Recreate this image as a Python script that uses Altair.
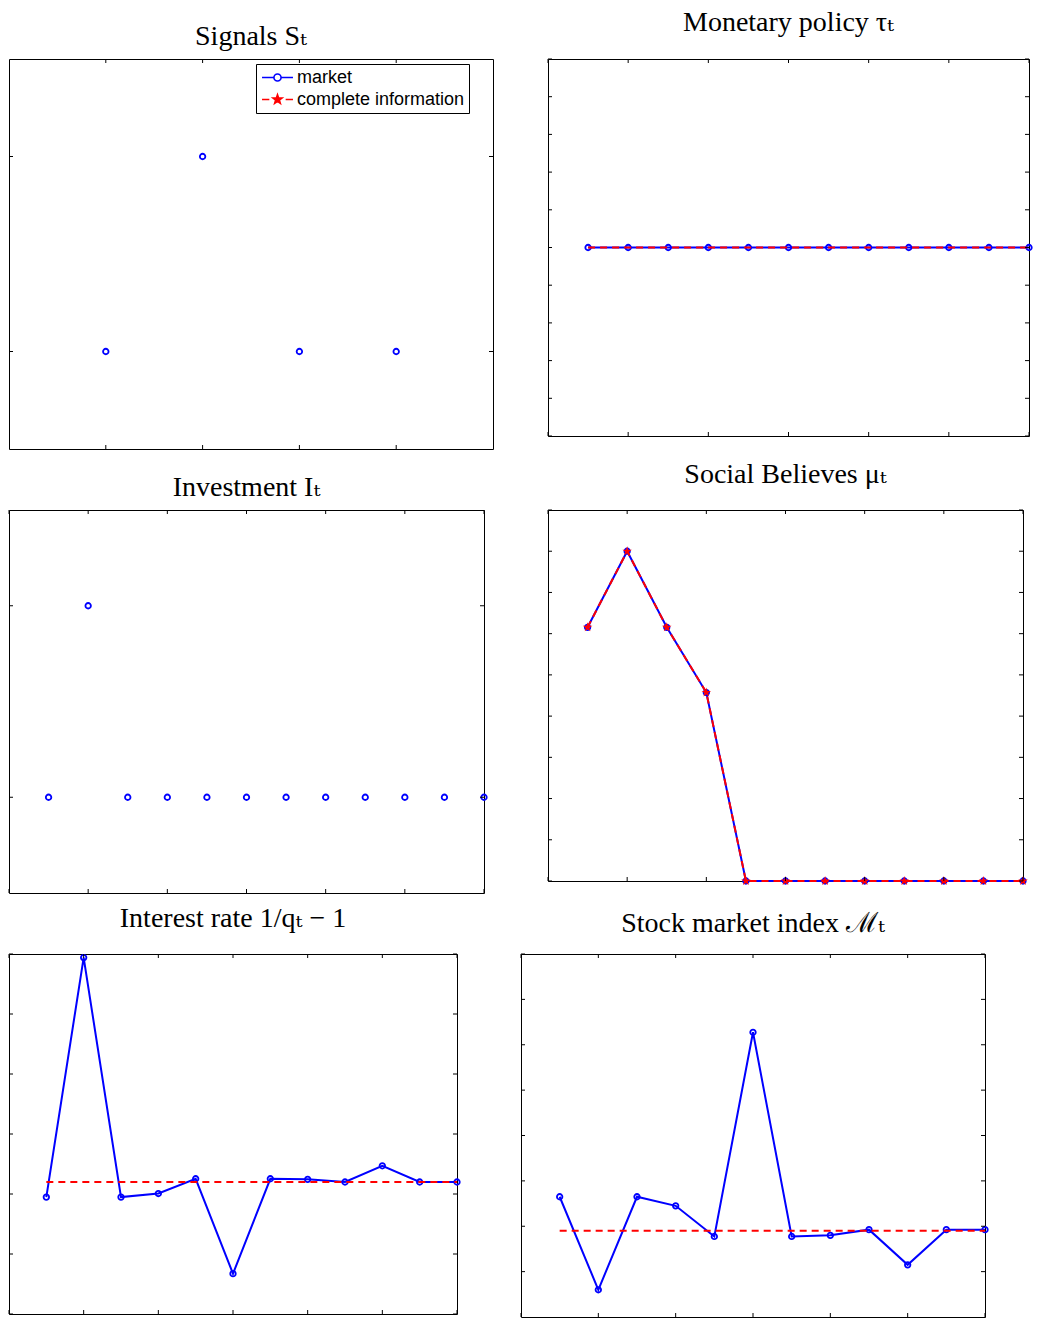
import altair as alt
import pandas as pd

BLUE = "#0000ff"
RED = "#ff0000"

# ---------------- data ----------------
sig_t = [1, 2, 3, 4]
sig_v = [0, 1, 0, 0]
periods = [1, 2, 3, 4, 5, 6, 7, 8, 9, 10, 11, 12]
tau_market = [1, 1, 1, 1, 1, 1, 1, 1, 1, 1, 1, 1]
tau_complete = [1, 1, 1, 1, 1, 1, 1, 1, 1, 1, 1, 1]
mu_market = [0.3077, 0.4, 0.3077, 0.2286, 0, 0, 0, 0, 0, 0, 0, 0]
mu_complete = [0.3077, 0.4, 0.3077, 0.2286, 0, 0, 0, 0, 0, 0, 0, 0]
inv_v = [0, 1, 0, 0, 0, 0, 0, 0, 0, 0, 0, 0]
rate_market = [99.74, 119.70, 99.74, 100.04, 101.27, 93.36, 101.27, 101.22, 101.00, 102.35, 101.00, 101.00]
rate_complete = [101.0, 101.0, 101.0, 101.0, 101.0, 101.0, 101.0, 101.0, 101.0, 101.0, 101.0, 101.0]
stock_market = [0.18833, 0.18792, 0.18833, 0.18829, 0.188155, 0.189055,
                0.188155, 0.18816, 0.188185, 0.18803, 0.188185, 0.188185]
stock_complete = [0.18818, 0.18818, 0.18818, 0.18818, 0.18818, 0.18818,
                  0.18818, 0.18818, 0.18818, 0.18818, 0.18818, 0.18818]
series_names = ["market", "complete information"]

# tick values
sig_xticks = [1, 2, 3, 4]
bin_yticks = [0, 1]
t_xticks = [0, 2, 4, 6, 8, 10, 12]
tau_yticks = [0, 0.2, 0.4, 0.6, 0.8, 1, 1.2, 1.4, 1.6, 1.8, 2]
mu_yticks = [0, 0.05, 0.1, 0.15, 0.2, 0.25, 0.3, 0.35, 0.4, 0.45]
rate_yticks = [90, 95, 100, 105, 110, 115, 120]
stock_yticks = [0.188, 0.1882, 0.1884, 0.1886, 0.1888, 0.189, 0.1892, 0.1894]

TITLE_FONT = "Liberation Serif, DejaVu Serif"
AX_FONT = "Liberation Sans"

# custom marker shapes (Vega has no built-in star)
STAR_PATH = ("M0,-1L0.2245,-0.309L0.9511,-0.309L0.3633,0.118L0.5878,0.809"
             "L0,0.382L-0.5878,0.809L-0.3633,0.118L-0.9511,-0.309L-0.2245,-0.309Z")
PATH_MARKET = ("M-1.82,0L-0.42,0M0.42,0L1.82,0"
               "M0.42,0A0.42,0.42,0,1,1,-0.42,0A0.42,0.42,0,1,1,0.42,0Z")
PATH_COMPLETE = ("M-1.82,0L-0.96,0M0.96,0L1.82,0"
                 "M0,-0.56L0.134,-0.184L0.532,-0.173L0.216,0.07L0.329,0.453"
                 "L0,0.227L-0.329,0.453L-0.216,0.07L-0.532,-0.173L-0.134,-0.184Z")


def df(xs, ys):
    return pd.DataFrame({"x": xs, "y": ys})


def panel(series, xdom, ydom, xticks, yticks, w, h, title, toff,
          ytitle=None, extra=None):
    xs = alt.Scale(domain=xdom, nice=False, zero=False)
    ys = alt.Scale(domain=ydom, nice=False, zero=False)
    common = dict(labelFont=AX_FONT, labelFontSize=9, labelColor="#222222",
                  tickSize=0, domain=False, grid=False, labelFlush=False,
                  format="~g")
    xax = alt.Axis(values=xticks, labelPadding=5, title=None, **common)
    if ytitle:
        yax = alt.Axis(values=yticks, labelPadding=4, title=ytitle,
                       titleFont=AX_FONT, titleFontSize=9,
                       titleFontWeight="normal", titleColor="#222222",
                       titlePadding=5, **common)
    else:
        yax = alt.Axis(values=yticks, labelPadding=4, title=None, **common)

    layers = []
    for data, mark in series:
        base = alt.Chart(data)
        if mark == "blue_line":
            m = base.mark_line(color=BLUE, strokeWidth=2)
        elif mark == "blue_circle":
            m = base.mark_point(shape="circle", filled=False, color=BLUE,
                                strokeWidth=1.8, size=30, opacity=1)
        elif mark == "red_dash":
            m = base.mark_line(color=RED, strokeWidth=2, strokeDash=[7, 5])
        else:
            m = base.mark_point(shape=STAR_PATH, filled=True, color=RED,
                                size=100, opacity=1)
        layers.append(m.encode(x=alt.X("x:Q", scale=xs, axis=xax),
                               y=alt.Y("y:Q", scale=ys, axis=yax)))

    L = 4
    xt = pd.DataFrame({"x": xticks})
    yt = pd.DataFrame({"y": yticks})
    layers.append(alt.Chart(xt).mark_rule(color="black", strokeWidth=1).encode(
        x=alt.X("x:Q", scale=xs, axis=None), y=alt.value(h), y2=alt.value(h - L)))
    layers.append(alt.Chart(xt).mark_rule(color="black", strokeWidth=1).encode(
        x=alt.X("x:Q", scale=xs, axis=None), y=alt.value(0), y2=alt.value(L)))
    layers.append(alt.Chart(yt).mark_rule(color="black", strokeWidth=1).encode(
        y=alt.Y("y:Q", scale=ys, axis=None), x=alt.value(0), x2=alt.value(L)))
    layers.append(alt.Chart(yt).mark_rule(color="black", strokeWidth=1).encode(
        y=alt.Y("y:Q", scale=ys, axis=None), x=alt.value(w - L), x2=alt.value(w)))
    if extra is not None:
        layers.append(extra)
    return alt.layer(*layers).properties(
        width=w, height=h,
        title=alt.TitleParams(title, font=TITLE_FONT, fontSize=28,
                              fontWeight="normal", color="black", offset=toff))


# ---- legend for Social Believes ----
LEG = alt.Legend(title=None, orient="none", legendX=247, legendY=5,
                 strokeColor="black", fillColor="white", padding=4,
                 labelFont=AX_FONT, labelFontSize=18, labelColor="black",
                 labelLimit=400, symbolSize=289, symbolStrokeWidth=1.6,
                 symbolOffset=8, symbolOpacity=1, labelOffset=10,
                 rowPadding=3)
leg_df = pd.DataFrame({"series": series_names})
legend_layer = alt.Chart(leg_df).mark_point(opacity=1).encode(
    shape=alt.Shape("series:N", scale=alt.Scale(domain=series_names,
                    range=[PATH_MARKET, PATH_COMPLETE]), legend=LEG),
    stroke=alt.Stroke("series:N", scale=alt.Scale(domain=series_names,
                      range=[BLUE, RED]), legend=LEG),
    fill=alt.Fill("series:N", scale=alt.Scale(domain=series_names,
                  range=["transparent", RED]), legend=LEG),
).transform_filter("false")

p1 = panel([(df(sig_t, sig_v), "blue_circle")], [0, 5], [-0.5, 1.5],
           sig_xticks, bin_yticks, 484, 390, "Signals Sₜ", 8)
p2 = panel([(df(periods, tau_market), "blue_line"),
            (df(periods, tau_market), "blue_circle"),
            (df(periods, tau_complete), "red_dash")],
           [0, 12], [0, 2], t_xticks, tau_yticks, 481, 377,
           "Monetary policy τₜ", 22)
p4 = panel([(df(periods, inv_v), "blue_circle")], [0, 12], [-0.5, 1.5],
           t_xticks, bin_yticks, 475, 383, "Investment Iₜ", 8)
p3 = panel([(df(periods, mu_market), "blue_line"),
            (df(periods, mu_market), "blue_circle"),
            (df(periods, mu_complete), "red_dash"),
            (df(periods, mu_complete), "red_star")],
           [0, 12], [0, 0.45], t_xticks, mu_yticks, 475, 371,
           "Social Believes μₜ", 21, extra=legend_layer)
p5 = panel([(df(periods, rate_market), "blue_line"),
            (df(periods, rate_market), "blue_circle"),
            (df(periods, rate_complete), "red_dash")],
           [0, 12], [90, 120], t_xticks, rate_yticks, 448, 360,
           "Interest rate 1/qₜ − 1", 18, ytitle="basis points")
p6 = panel([(df(periods, stock_market), "blue_line"),
            (df(periods, stock_market), "blue_circle"),
            (df(periods, stock_complete), "red_dash")],
           [0, 12], [0.1878, 0.1894], t_xticks, stock_yticks, 464, 363,
           "Stock market index ℳₜ", 16)

row1 = alt.hconcat(p1, p2, spacing=53)
row2 = alt.hconcat(p4, p3, spacing=56)
row3 = alt.hconcat(p5, p6, spacing=56)

chart = alt.vconcat(row1, row2, row3, spacing=10).properties(
    padding={"left": 0, "top": 0, "right": 0, "bottom": 0}
).configure_view(stroke="black", strokeWidth=1)

chart.save("out.html", embed_options={"renderer": "svg", "actions": False})
